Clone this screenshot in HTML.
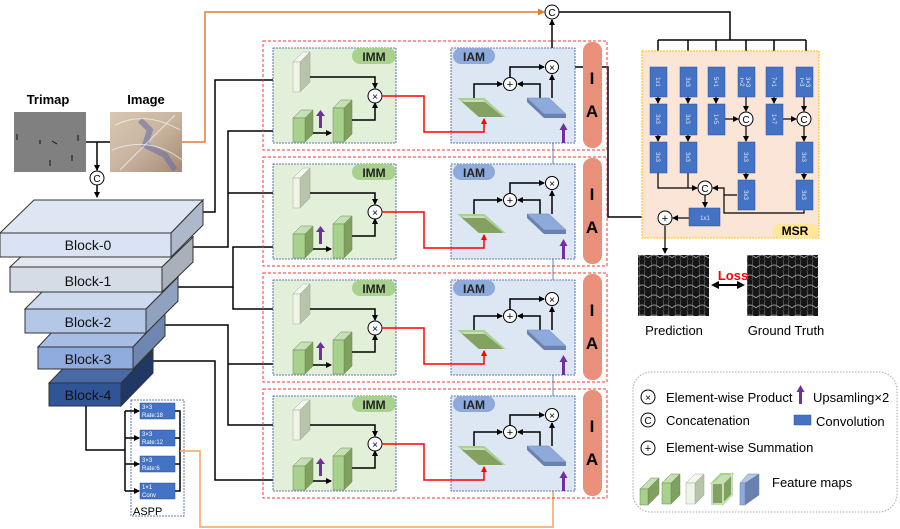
<!DOCTYPE html>
<html><head><meta charset="utf-8"><style>
html,body{margin:0;padding:0;background:#fff;}
svg{display:block;font-family:"Liberation Sans",Arial,sans-serif;}
</style></head><body>
<svg width="900" height="529" viewBox="0 0 900 529" xmlns="http://www.w3.org/2000/svg">
<defs>
<marker id="ak" markerWidth="6" markerHeight="6" refX="5" refY="3" orient="auto" markerUnits="userSpaceOnUse"><path d="M0,0 L6,3 L0,6 z" fill="#000"/></marker>
<marker id="ar" markerWidth="6" markerHeight="6" refX="5" refY="3" orient="auto" markerUnits="userSpaceOnUse"><path d="M0,0 L6,3 L0,6 z" fill="#f00"/></marker>
<marker id="ao" markerWidth="7" markerHeight="7" refX="6" refY="3.5" orient="auto" markerUnits="userSpaceOnUse"><path d="M0,0 L7,3.5 L0,7 z" fill="#e07b39"/></marker>
<pattern id="web" width="12" height="10" patternUnits="userSpaceOnUse"><rect width="12" height="10" fill="#151515"/><path d="M0,8 Q6,2 12,8" stroke="#bbb" stroke-width="0.8" fill="none"/><path d="M3,0 L4,10 M9,0 L8,10" stroke="#777" stroke-width="0.6"/></pattern>
<linearGradient id="ph" x1="0" y1="0" x2="1" y2="1"><stop offset="0" stop-color="#d8c8b0"/><stop offset="0.5" stop-color="#c9b4a0"/><stop offset="1" stop-color="#a48a70"/></linearGradient>
</defs>

<text x="48" y="104" font-size="13" font-weight="bold" text-anchor="middle">Trimap</text>
<text x="146" y="104" font-size="13" font-weight="bold" text-anchor="middle">Image</text>
<rect x="14" y="112" width="72" height="60" fill="#808080"/>
<path d="M17,134 v6 M40,140 v4 M52,141 l5,3 M78,135 v6 M50,160 v6 M72,155 v6" stroke="#111" stroke-width="1"/>
<rect x="110" y="112" width="72" height="60" fill="url(#ph)"/>
<path d="M140,120 l10,10 l-5,15 l20,10 l10,15" stroke="#6a6fa8" stroke-width="6" fill="none" opacity="0.6"/>
<path d="M115,125 Q145,110 180,130 M112,150 Q150,135 182,160 M120,170 Q140,150 175,115" stroke="#eee" stroke-width="1" fill="none" opacity="0.8"/>
<path d="M86,142 H110" stroke="#000" stroke-width="1.5"/>
<path d="M97,142 V170" stroke="#000" stroke-width="1.5" marker-end="url(#ak)"/>
<circle cx="97" cy="178" r="7" fill="#fff" stroke="#000"/><text x="97" y="182" font-size="10" text-anchor="middle">C</text>
<path d="M97,185 V197" stroke="#000" stroke-width="1.5" marker-end="url(#ak)"/>

<path d="M182,142 H205 V12 H544" stroke="#e07b39" stroke-width="1.5" fill="none" marker-end="url(#ao)"/>

<g stroke="#000" stroke-width="1.5" fill="none">
<path d="M200,212 H215 V80 H292" marker-end="url(#ak)"/>
<path d="M190,247 H228 V131 H292" marker-end="url(#ak)"/>
<path d="M228,193 H292" marker-end="url(#ak)"/>
<path d="M175,287 H233 V247 H292" marker-end="url(#ak)"/>
<path d="M233,287 V309 H292" marker-end="url(#ak)"/>
<path d="M160,325 H228 V425 H292" marker-end="url(#ak)"/>
<path d="M228,364 H292" marker-end="url(#ak)"/>
<path d="M150,361 H215 V480 H292" marker-end="url(#ak)"/>
</g>

<g stroke="#333" stroke-width="1">
<polygon points="49,383 81,350 153,350 121,383" fill="#4a6aa6"/>
<polygon points="121,383 153,350 153,373 121,406" fill="#203864"/>
<rect x="49" y="383" width="72" height="23" fill="#2f5597"/>
<polygon points="38,347 70,313 165,313 133,347" fill="#a8bde3"/>
<polygon points="133,347 165,313 165,336 133,369" fill="#6f86b0"/>
<rect x="38" y="347" width="95" height="22" fill="#8faadc"/>
<polygon points="25,309 57,277 178,277 146,309" fill="#cdd9ee"/>
<polygon points="146,309 178,277 178,301 146,333" fill="#8fa2c0"/>
<rect x="25" y="309" width="121" height="24" fill="#b4c7e7"/>
<polygon points="10,267 42,237 193,237 162,267" fill="#e4e8ee"/>
<polygon points="162,267 193,237 193,262 162,292" fill="#a9b0ba"/>
<rect x="10" y="267" width="152" height="25" fill="#d6dce5"/>
<polygon points="0,233 34,200 203,200 171,233" fill="#dfe6f3"/>
<polygon points="171,233 203,200 203,225 171,257" fill="#adb9ca"/>
<rect x="0" y="233" width="171" height="24" fill="#dae3f3"/>
</g>
<g font-size="14" text-anchor="middle" fill="#111">
<text x="88" y="250">Block-0</text><text x="88" y="286">Block-1</text>
<text x="88" y="327">Block-2</text><text x="88" y="364">Block-3</text><text x="88" y="400">Block-4</text>
</g>

<rect x="131" y="400" width="53" height="116" fill="none" stroke="#2f5597" stroke-dasharray="2,1" stroke-width="0.8"/>
<g stroke="#000" stroke-width="1.5" fill="none">
<path d="M86,406 V450 H125"/>
<path d="M125,411 V491"/>
<path d="M125,411 H139" marker-end="url(#ak)"/><path d="M125,438 H139" marker-end="url(#ak)"/>
<path d="M125,464 H139" marker-end="url(#ak)"/><path d="M125,491 H139" marker-end="url(#ak)"/>
<path d="M175,411 H180 V491 H175 M175,438 H180 M175,464 H180"/>
</g>
<g fill="#4472c4" stroke="#2f5597" stroke-width="0.5">
<rect x="140" y="403" width="35" height="16"/><rect x="140" y="430" width="35" height="16"/>
<rect x="140" y="456" width="35" height="16"/><rect x="140" y="483" width="35" height="16"/>
</g>
<g fill="#fff" font-size="6">
<text x="142" y="409">3×3</text><text x="142" y="417">Rate:18</text>
<text x="142" y="436">3×3</text><text x="142" y="444">Rate:12</text>
<text x="142" y="462">3×3</text><text x="142" y="470">Rate:6</text>
<text x="142" y="489">1×1</text><text x="142" y="497">Conv</text>
</g>
<text x="133" y="515" font-size="11">ASPP</text>

<path d="M180,451 H200 V527 H553 V466" stroke="#f4a460" stroke-width="1.5" fill="none" marker-end="url(#ao)"/>

<path d="M553,414 V350 M553,298 V234 M553,182 V118" stroke="#8fb0e0" stroke-width="1.5" fill="none"/>

<path d="M552,61 V20" stroke="#000" stroke-width="1.5" marker-end="url(#ak)"/>
<circle cx="552" cy="12" r="7" fill="#fff" stroke="#000"/><text x="552" y="16" font-size="10" text-anchor="middle">C</text>
<path d="M559,12 H730 V40 M658,40 H806" stroke="#000" stroke-width="1.5" fill="none"/>
<g stroke="#000" stroke-width="1.5"><path d="M658,40 V65" marker-end="url(#ak)"/><path d="M688,40 V65" marker-end="url(#ak)"/><path d="M716,40 V65" marker-end="url(#ak)"/><path d="M746,40 V65" marker-end="url(#ak)"/><path d="M774,40 V65" marker-end="url(#ak)"/><path d="M806,40 V65" marker-end="url(#ak)"/></g>
<path d="M558,67 H608 V217 H657" stroke="#000" stroke-width="1.5" fill="none" marker-end="url(#ak)"/>

<g id="r1">
<rect x="263" y="41" width="344" height="109" fill="none" stroke="#f33" stroke-dasharray="3,2"/>
<rect x="273" y="48" width="123" height="95" fill="#e2f0d9" stroke="#2f5597" stroke-dasharray="2,1" stroke-width="0.8"/>
<rect x="352" y="48" width="44" height="16" rx="8" fill="#a9d18e"/><text x="374" y="61" font-size="12" font-weight="bold" text-anchor="middle" fill="#222">IMM</text>
<rect x="451" y="48" width="124" height="95" fill="#dde6f3" stroke="#2f5597" stroke-dasharray="2,1" stroke-width="0.8"/>
<rect x="453" y="48" width="42" height="16" rx="8" fill="#8eaadb"/><text x="474" y="61" font-size="12" font-weight="bold" text-anchor="middle" fill="#222">IAM</text>
<rect x="583" y="42" width="19" height="106" rx="9" fill="#e8907a"/><text x="592" y="84" font-size="17" font-weight="bold" text-anchor="middle">I</text><text x="592" y="117" font-size="17" font-weight="bold" text-anchor="middle">A</text>
<polygon points="293,62 303,52 310,52 300,62" fill="#f3f7ee" stroke="#aaa" stroke-width="0.5"/><polygon points="300,62 310,52 310,82 300,92" fill="#b7c4aa" stroke="#999" stroke-width="0.5"/><rect x="293" y="62" width="7" height="30" fill="#eef4e6" stroke="#aaa" stroke-width="0.5"/>
<polygon points="293,118 301,110 313,110 305,118" fill="#c5e0b4" stroke="#6a8a50" stroke-width="0.5"/><polygon points="305,118 313,110 313,134 305,142" fill="#7fa05f" stroke="#6a8a50" stroke-width="0.5"/><rect x="293" y="118" width="12" height="24" fill="#a9d18e" stroke="#6a8a50" stroke-width="0.5"/>
<polygon points="333,108 341,100 352,100 344,108" fill="#c5e0b4" stroke="#6a8a50" stroke-width="0.5"/><polygon points="344,108 352,100 352,134 344,142" fill="#7fa05f" stroke="#6a8a50" stroke-width="0.5"/><rect x="333" y="108" width="11" height="34" fill="#a9d18e" stroke="#6a8a50" stroke-width="0.5"/>
<rect x="319" y="114" width="3" height="14" fill="#7030a0"/><polygon points="316,116 320.5,110 325,116" fill="#7030a0"/>
<g stroke="#000" stroke-width="1.5" fill="none">
<path d="M310,77 H375 V88" marker-end="url(#ak)"/>
<path d="M313,133 H331" marker-end="url(#ak)"/>
<path d="M352,120 H375 V103" marker-end="url(#ak)"/>
<path d="M474,99 V84 H502" marker-end="url(#ak)"/>
<path d="M540,98 V84 H518" marker-end="url(#ak)"/>
<path d="M510,78 V67 H544" marker-end="url(#ak)"/>
<path d="M552,98 V75" marker-end="url(#ak)"/>
</g>
<circle cx="375" cy="96" r="7" fill="#fff" stroke="#000"/><text x="375" y="100" font-size="10" text-anchor="middle">×</text>
<path d="M382,96 H424 V132 H484 V119" stroke="#f00" stroke-width="1.5" fill="none" marker-end="url(#ar)"/>
<polygon points="460,99 484,99 503,116 479,116" fill="#c5e0b4" stroke="#a9d18e" stroke-width="2"/><polygon points="462,102 479,117 503,117 485,102" fill="#84a063"/>
<polygon points="527,98 549,98 566,114 544,114" fill="#8eaadb" stroke="#6f86b0" stroke-width="0.5"/><polygon points="527,98 544,114 566,114 566,118 544,118 527,102" fill="#6a80b0"/>
<circle cx="510" cy="84" r="6.5" fill="#fff" stroke="#000"/><text x="510" y="88" font-size="11" text-anchor="middle">+</text>
<circle cx="552" cy="67" r="6.5" fill="#fff" stroke="#000"/><text x="552" y="71" font-size="10" text-anchor="middle">×</text>
<rect x="562" y="128" width="3" height="15" fill="#7030a0"/><polygon points="559.5,130 563.5,123 567.5,130" fill="#7030a0"/>
</g>
<g transform="translate(0,116)">
<rect x="263" y="41" width="344" height="109" fill="none" stroke="#f33" stroke-dasharray="3,2"/>
<rect x="273" y="48" width="123" height="95" fill="#e2f0d9" stroke="#2f5597" stroke-dasharray="2,1" stroke-width="0.8"/>
<rect x="352" y="48" width="44" height="16" rx="8" fill="#a9d18e"/><text x="374" y="61" font-size="12" font-weight="bold" text-anchor="middle" fill="#222">IMM</text>
<rect x="451" y="48" width="124" height="95" fill="#dde6f3" stroke="#2f5597" stroke-dasharray="2,1" stroke-width="0.8"/>
<rect x="453" y="48" width="42" height="16" rx="8" fill="#8eaadb"/><text x="474" y="61" font-size="12" font-weight="bold" text-anchor="middle" fill="#222">IAM</text>
<rect x="583" y="42" width="19" height="106" rx="9" fill="#e8907a"/><text x="592" y="84" font-size="17" font-weight="bold" text-anchor="middle">I</text><text x="592" y="117" font-size="17" font-weight="bold" text-anchor="middle">A</text>
<polygon points="293,62 303,52 310,52 300,62" fill="#f3f7ee" stroke="#aaa" stroke-width="0.5"/><polygon points="300,62 310,52 310,82 300,92" fill="#b7c4aa" stroke="#999" stroke-width="0.5"/><rect x="293" y="62" width="7" height="30" fill="#eef4e6" stroke="#aaa" stroke-width="0.5"/>
<polygon points="293,118 301,110 313,110 305,118" fill="#c5e0b4" stroke="#6a8a50" stroke-width="0.5"/><polygon points="305,118 313,110 313,134 305,142" fill="#7fa05f" stroke="#6a8a50" stroke-width="0.5"/><rect x="293" y="118" width="12" height="24" fill="#a9d18e" stroke="#6a8a50" stroke-width="0.5"/>
<polygon points="333,108 341,100 352,100 344,108" fill="#c5e0b4" stroke="#6a8a50" stroke-width="0.5"/><polygon points="344,108 352,100 352,134 344,142" fill="#7fa05f" stroke="#6a8a50" stroke-width="0.5"/><rect x="333" y="108" width="11" height="34" fill="#a9d18e" stroke="#6a8a50" stroke-width="0.5"/>
<rect x="319" y="114" width="3" height="14" fill="#7030a0"/><polygon points="316,116 320.5,110 325,116" fill="#7030a0"/>
<g stroke="#000" stroke-width="1.5" fill="none">
<path d="M310,77 H375 V88" marker-end="url(#ak)"/><path d="M313,133 H331" marker-end="url(#ak)"/><path d="M352,120 H375 V103" marker-end="url(#ak)"/>
<path d="M474,99 V84 H502" marker-end="url(#ak)"/><path d="M540,98 V84 H518" marker-end="url(#ak)"/><path d="M510,78 V67 H544" marker-end="url(#ak)"/><path d="M552,98 V75" marker-end="url(#ak)"/>
</g>
<circle cx="375" cy="96" r="7" fill="#fff" stroke="#000"/><text x="375" y="100" font-size="10" text-anchor="middle">×</text>
<path d="M382,96 H424 V132 H484 V119" stroke="#f00" stroke-width="1.5" fill="none" marker-end="url(#ar)"/>
<polygon points="460,99 484,99 503,116 479,116" fill="#c5e0b4" stroke="#a9d18e" stroke-width="2"/><polygon points="462,102 479,117 503,117 485,102" fill="#84a063"/>
<polygon points="527,98 549,98 566,114 544,114" fill="#8eaadb" stroke="#6f86b0" stroke-width="0.5"/><polygon points="527,98 544,114 566,114 566,118 544,118 527,102" fill="#6a80b0"/>
<circle cx="510" cy="84" r="6.5" fill="#fff" stroke="#000"/><text x="510" y="88" font-size="11" text-anchor="middle">+</text>
<circle cx="552" cy="67" r="6.5" fill="#fff" stroke="#000"/><text x="552" y="71" font-size="10" text-anchor="middle">×</text>
<rect x="562" y="128" width="3" height="15" fill="#7030a0"/><polygon points="559.5,130 563.5,123 567.5,130" fill="#7030a0"/>
</g>
<g transform="translate(0,232)">
<rect x="263" y="41" width="344" height="109" fill="none" stroke="#f33" stroke-dasharray="3,2"/>
<rect x="273" y="48" width="123" height="95" fill="#e2f0d9" stroke="#2f5597" stroke-dasharray="2,1" stroke-width="0.8"/>
<rect x="352" y="48" width="44" height="16" rx="8" fill="#a9d18e"/><text x="374" y="61" font-size="12" font-weight="bold" text-anchor="middle" fill="#222">IMM</text>
<rect x="451" y="48" width="124" height="95" fill="#dde6f3" stroke="#2f5597" stroke-dasharray="2,1" stroke-width="0.8"/>
<rect x="453" y="48" width="42" height="16" rx="8" fill="#8eaadb"/><text x="474" y="61" font-size="12" font-weight="bold" text-anchor="middle" fill="#222">IAM</text>
<rect x="583" y="42" width="19" height="106" rx="9" fill="#e8907a"/><text x="592" y="84" font-size="17" font-weight="bold" text-anchor="middle">I</text><text x="592" y="117" font-size="17" font-weight="bold" text-anchor="middle">A</text>
<polygon points="293,62 303,52 310,52 300,62" fill="#f3f7ee" stroke="#aaa" stroke-width="0.5"/><polygon points="300,62 310,52 310,82 300,92" fill="#b7c4aa" stroke="#999" stroke-width="0.5"/><rect x="293" y="62" width="7" height="30" fill="#eef4e6" stroke="#aaa" stroke-width="0.5"/>
<polygon points="293,118 301,110 313,110 305,118" fill="#c5e0b4" stroke="#6a8a50" stroke-width="0.5"/><polygon points="305,118 313,110 313,134 305,142" fill="#7fa05f" stroke="#6a8a50" stroke-width="0.5"/><rect x="293" y="118" width="12" height="24" fill="#a9d18e" stroke="#6a8a50" stroke-width="0.5"/>
<polygon points="333,108 341,100 352,100 344,108" fill="#c5e0b4" stroke="#6a8a50" stroke-width="0.5"/><polygon points="344,108 352,100 352,134 344,142" fill="#7fa05f" stroke="#6a8a50" stroke-width="0.5"/><rect x="333" y="108" width="11" height="34" fill="#a9d18e" stroke="#6a8a50" stroke-width="0.5"/>
<rect x="319" y="114" width="3" height="14" fill="#7030a0"/><polygon points="316,116 320.5,110 325,116" fill="#7030a0"/>
<g stroke="#000" stroke-width="1.5" fill="none">
<path d="M310,77 H375 V88" marker-end="url(#ak)"/><path d="M313,133 H331" marker-end="url(#ak)"/><path d="M352,120 H375 V103" marker-end="url(#ak)"/>
<path d="M474,99 V84 H502" marker-end="url(#ak)"/><path d="M540,98 V84 H518" marker-end="url(#ak)"/><path d="M510,78 V67 H544" marker-end="url(#ak)"/><path d="M552,98 V75" marker-end="url(#ak)"/>
</g>
<circle cx="375" cy="96" r="7" fill="#fff" stroke="#000"/><text x="375" y="100" font-size="10" text-anchor="middle">×</text>
<path d="M382,96 H424 V132 H484 V119" stroke="#f00" stroke-width="1.5" fill="none" marker-end="url(#ar)"/>
<polygon points="460,99 484,99 503,116 479,116" fill="#c5e0b4" stroke="#a9d18e" stroke-width="2"/><polygon points="462,102 479,117 503,117 485,102" fill="#84a063"/>
<polygon points="527,98 549,98 566,114 544,114" fill="#8eaadb" stroke="#6f86b0" stroke-width="0.5"/><polygon points="527,98 544,114 566,114 566,118 544,118 527,102" fill="#6a80b0"/>
<circle cx="510" cy="84" r="6.5" fill="#fff" stroke="#000"/><text x="510" y="88" font-size="11" text-anchor="middle">+</text>
<circle cx="552" cy="67" r="6.5" fill="#fff" stroke="#000"/><text x="552" y="71" font-size="10" text-anchor="middle">×</text>
<rect x="562" y="128" width="3" height="15" fill="#7030a0"/><polygon points="559.5,130 563.5,123 567.5,130" fill="#7030a0"/>
</g>
<g transform="translate(0,348)">
<rect x="263" y="41" width="344" height="109" fill="none" stroke="#f33" stroke-dasharray="3,2"/>
<rect x="273" y="48" width="123" height="95" fill="#e2f0d9" stroke="#2f5597" stroke-dasharray="2,1" stroke-width="0.8"/>
<rect x="352" y="48" width="44" height="16" rx="8" fill="#a9d18e"/><text x="374" y="61" font-size="12" font-weight="bold" text-anchor="middle" fill="#222">IMM</text>
<rect x="451" y="48" width="124" height="95" fill="#dde6f3" stroke="#2f5597" stroke-dasharray="2,1" stroke-width="0.8"/>
<rect x="453" y="48" width="42" height="16" rx="8" fill="#8eaadb"/><text x="474" y="61" font-size="12" font-weight="bold" text-anchor="middle" fill="#222">IAM</text>
<rect x="583" y="42" width="19" height="106" rx="9" fill="#e8907a"/><text x="592" y="84" font-size="17" font-weight="bold" text-anchor="middle">I</text><text x="592" y="117" font-size="17" font-weight="bold" text-anchor="middle">A</text>
<polygon points="293,62 303,52 310,52 300,62" fill="#f3f7ee" stroke="#aaa" stroke-width="0.5"/><polygon points="300,62 310,52 310,82 300,92" fill="#b7c4aa" stroke="#999" stroke-width="0.5"/><rect x="293" y="62" width="7" height="30" fill="#eef4e6" stroke="#aaa" stroke-width="0.5"/>
<polygon points="293,118 301,110 313,110 305,118" fill="#c5e0b4" stroke="#6a8a50" stroke-width="0.5"/><polygon points="305,118 313,110 313,134 305,142" fill="#7fa05f" stroke="#6a8a50" stroke-width="0.5"/><rect x="293" y="118" width="12" height="24" fill="#a9d18e" stroke="#6a8a50" stroke-width="0.5"/>
<polygon points="333,108 341,100 352,100 344,108" fill="#c5e0b4" stroke="#6a8a50" stroke-width="0.5"/><polygon points="344,108 352,100 352,134 344,142" fill="#7fa05f" stroke="#6a8a50" stroke-width="0.5"/><rect x="333" y="108" width="11" height="34" fill="#a9d18e" stroke="#6a8a50" stroke-width="0.5"/>
<rect x="319" y="114" width="3" height="14" fill="#7030a0"/><polygon points="316,116 320.5,110 325,116" fill="#7030a0"/>
<g stroke="#000" stroke-width="1.5" fill="none">
<path d="M310,77 H375 V88" marker-end="url(#ak)"/><path d="M313,133 H331" marker-end="url(#ak)"/><path d="M352,120 H375 V103" marker-end="url(#ak)"/>
<path d="M474,99 V84 H502" marker-end="url(#ak)"/><path d="M540,98 V84 H518" marker-end="url(#ak)"/><path d="M510,78 V67 H544" marker-end="url(#ak)"/><path d="M552,98 V75" marker-end="url(#ak)"/>
</g>
<circle cx="375" cy="96" r="7" fill="#fff" stroke="#000"/><text x="375" y="100" font-size="10" text-anchor="middle">×</text>
<path d="M382,96 H424 V132 H484 V119" stroke="#f00" stroke-width="1.5" fill="none" marker-end="url(#ar)"/>
<polygon points="460,99 484,99 503,116 479,116" fill="#c5e0b4" stroke="#a9d18e" stroke-width="2"/><polygon points="462,102 479,117 503,117 485,102" fill="#84a063"/>
<polygon points="527,98 549,98 566,114 544,114" fill="#8eaadb" stroke="#6f86b0" stroke-width="0.5"/><polygon points="527,98 544,114 566,114 566,118 544,118 527,102" fill="#6a80b0"/>
<circle cx="510" cy="84" r="6.5" fill="#fff" stroke="#000"/><text x="510" y="88" font-size="11" text-anchor="middle">+</text>
<circle cx="552" cy="67" r="6.5" fill="#fff" stroke="#000"/><text x="552" y="71" font-size="10" text-anchor="middle">×</text>
<rect x="562" y="128" width="3" height="15" fill="#7030a0"/><polygon points="559.5,130 563.5,123 567.5,130" fill="#7030a0"/>
</g>

<rect x="642" y="51" width="177" height="187" fill="#fbe5d6" stroke="#ffc000" stroke-dasharray="2,1"/>
<rect x="773" y="224" width="45" height="14" rx="7" fill="#ffe699"/><text x="795" y="235" font-size="12" font-weight="bold" text-anchor="middle">MSR</text>
<g stroke="#000" stroke-width="1.2" fill="none">
<path d="M658,97 V103" marker-end="url(#ak)"/><path d="M658,135 V141" marker-end="url(#ak)"/>
<path d="M688,97 V103" marker-end="url(#ak)"/><path d="M688,135 V141" marker-end="url(#ak)"/>
<path d="M716,97 V103" marker-end="url(#ak)"/><path d="M725,119 H738" marker-end="url(#ak)"/>
<path d="M746,97 V111" marker-end="url(#ak)"/><path d="M746,126 V141" marker-end="url(#ak)"/><path d="M746,173 V179" marker-end="url(#ak)"/>
<path d="M774,97 V103" marker-end="url(#ak)"/><path d="M783,119 H796" marker-end="url(#ak)"/>
<path d="M804,97 V111" marker-end="url(#ak)"/><path d="M804,126 V141" marker-end="url(#ak)"/><path d="M804,173 V179" marker-end="url(#ak)"/>
<path d="M658,173 V188 H697" marker-end="url(#ak)"/><path d="M688,173 V188"/>
<path d="M737,195 H724 V188 H713" marker-end="url(#ak)"/><path d="M804,210 V213 H724 V195"/>
<path d="M705,195 V207" marker-end="url(#ak)"/>
<path d="M689,218 H673" marker-end="url(#ak)"/>
<path d="M665,226 V253" marker-end="url(#ak)"/>
</g>
<g fill="#4472c4" stroke="#2f5597" stroke-width="0.5">
<rect x="650" y="67" width="17" height="30"/><rect x="650" y="104" width="17" height="31"/><rect x="650" y="142" width="17" height="31"/>
<rect x="680" y="67" width="17" height="30"/><rect x="680" y="104" width="17" height="31"/><rect x="680" y="142" width="17" height="31"/>
<rect x="708" y="67" width="17" height="30"/><rect x="708" y="104" width="17" height="31"/>
<rect x="738" y="67" width="17" height="30"/><rect x="738" y="142" width="17" height="31"/><rect x="738" y="180" width="17" height="30"/>
<rect x="766" y="67" width="17" height="30"/><rect x="766" y="104" width="17" height="31"/>
<rect x="796" y="67" width="17" height="30"/><rect x="796" y="142" width="17" height="31"/><rect x="796" y="180" width="17" height="30"/>
<rect x="689" y="208" width="31" height="18"/>
</g>
<g fill="#dde6f5" font-size="6" text-anchor="middle">
<text transform="translate(656,82) rotate(90)">1x1</text><text transform="translate(656,119) rotate(90)">3x3</text><text transform="translate(656,157) rotate(90)">3x3</text>
<text transform="translate(686,82) rotate(90)">3x3</text><text transform="translate(686,119) rotate(90)">3x3</text><text transform="translate(686,157) rotate(90)">3x3</text>
<text transform="translate(714,82) rotate(90)">5×1</text><text transform="translate(714,119) rotate(90)">1×5</text>
<text transform="translate(746,82) rotate(90)">3×3</text><text transform="translate(740,82) rotate(90)">r=2</text>
<text transform="translate(744,157) rotate(90)">3x3</text><text transform="translate(744,195) rotate(90)">3x3</text>
<text transform="translate(772,82) rotate(90)">7×1</text><text transform="translate(772,119) rotate(90)">1×7</text>
<text transform="translate(806,82) rotate(90)">3×3</text><text transform="translate(800,82) rotate(90)">r=3</text>
<text transform="translate(802,157) rotate(90)">3x3</text><text transform="translate(802,195) rotate(90)">3x3</text>
<text x="705" y="220">1x1</text>
</g>
<circle cx="746" cy="119" r="7" fill="#fff" stroke="#000"/><text x="746" y="123" font-size="10" text-anchor="middle">C</text>
<circle cx="804" cy="119" r="7" fill="#fff" stroke="#000"/><text x="804" y="123" font-size="10" text-anchor="middle">C</text>
<circle cx="705" cy="188" r="7" fill="#fff" stroke="#000"/><text x="705" y="192" font-size="10" text-anchor="middle">C</text>
<circle cx="665" cy="218" r="7" fill="#fff" stroke="#000"/><text x="665" y="222" font-size="11" text-anchor="middle">+</text>

<rect x="638" y="255" width="71" height="61" fill="url(#web)"/>
<rect x="747" y="255" width="71" height="61" fill="url(#web)"/>
<text x="733" y="280" font-size="13" font-weight="bold" fill="#f00" text-anchor="middle">Loss</text>
<path d="M716,285 H740" stroke="#000" stroke-width="2"/>
<polygon points="711,285 719,281 719,289" fill="#000"/>
<polygon points="745,285 737,281 737,289" fill="#000"/>
<text x="674" y="335" font-size="13" text-anchor="middle">Prediction</text>
<text x="786" y="335" font-size="13" text-anchor="middle">Ground Truth</text>

<rect x="633" y="372" width="264" height="140" rx="18" fill="none" stroke="#aaa" stroke-dasharray="1.5,1.5"/>
<circle cx="648" cy="397" r="7" fill="#fff" stroke="#000"/><text x="648" y="401" font-size="10" text-anchor="middle">×</text>
<text x="666" y="402" font-size="13">Element-wise Product</text>
<rect x="799" y="389" width="3" height="15" fill="#7030a0"/><polygon points="796.5,392 800.5,385 804.5,392" fill="#7030a0"/>
<text x="813" y="402" font-size="13">Upsamling×2</text>
<circle cx="648" cy="420" r="7" fill="#fff" stroke="#000"/><text x="648" y="424" font-size="10" text-anchor="middle">C</text>
<text x="666" y="425" font-size="13">Concatenation</text>
<rect x="794" y="415" width="17" height="10" fill="#4472c4" stroke="#2f5597" stroke-width="0.5"/>
<text x="816" y="426" font-size="13">Convolution</text>
<circle cx="648" cy="448" r="7" fill="#fff" stroke="#000"/><text x="648" y="452" font-size="11" text-anchor="middle">+</text>
<text x="666" y="452" font-size="13">Element-wise Summation</text>
<g stroke-width="0.5">
<polygon points="640,489 651,478 659,478 648,489" fill="#c5e0b4" stroke="#6a8a50"/><polygon points="648,489 659,478 659,494 648,505" fill="#7fa05f" stroke="#6a8a50"/><rect x="640" y="489" width="8" height="16" fill="#a9d18e" stroke="#6a8a50"/>
<polygon points="662,483 671,474 680,474 671,483" fill="#c5e0b4" stroke="#6a8a50"/><polygon points="671,483 680,474 680,495 671,504" fill="#7fa05f" stroke="#6a8a50"/><rect x="662" y="483" width="9" height="21" fill="#a9d18e" stroke="#6a8a50"/>
<polygon points="686,483 695,474 704,474 695,483" fill="#f3f7ee" stroke="#aaa"/><polygon points="695,483 704,474 704,495 695,504" fill="#b7c4aa" stroke="#999"/><rect x="686" y="483" width="9" height="21" fill="#eef4e6" stroke="#aaa"/>
<polygon points="712,483 721,474 732,474 723,483" fill="#c5e0b4" stroke="#a9d18e" stroke-width="2"/><polygon points="723,483 732,474 732,495 723,504" fill="#7fa05f" stroke="#c5e0b4" stroke-width="2"/><rect x="712" y="483" width="11" height="21" fill="#84a063" stroke="#c5e0b4" stroke-width="2"/>
<polygon points="740,483 748,474 759,474 751,483" fill="#b4c7e7" stroke="#6f86b0"/><polygon points="745,483 759,474 759,495 745,505" fill="#6a80b0" stroke="#6f86b0"/><rect x="740" y="483" width="5" height="22" fill="#8eaadb" stroke="#6f86b0"/>
</g>
<text x="772" y="487" font-size="13">Feature maps</text>
</svg>
</body></html>
